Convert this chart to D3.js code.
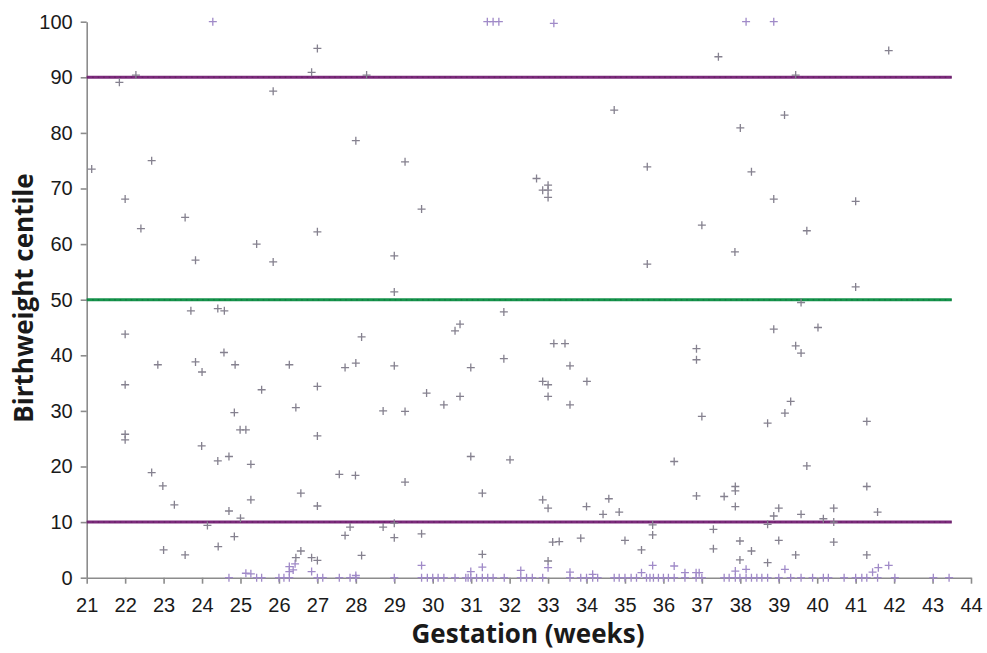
<!DOCTYPE html>
<html lang="en">
<head>
<meta charset="UTF-8">
<title>Birthweight centile by gestation</title>
<script src="https://d3js.org/d3.v7.min.js"></script>
<style>
	body { margin: 0; background: #fff; }
	svg { display: block; }
</style>
</head>
<body>
<div id="main"></div>
<script>
	// gestation (weeks) for each baby
	var gestation = [
		24.28, 27.0, 26.85, 22.28, 21.85, 25.85, 28.28, 28.0, 21.13, 22.69, 22.0,
		31.42, 31.57, 31.72, 33.15, 34.72, 29.28, 35.58, 32.70, 33.0, 32.86, 33.0, 33.0, 29.71,
		38.15, 38.87, 37.43, 41.86, 39.44, 39.15, 38.0, 38.29, 38.87, 41.0,
		22.41, 23.56, 23.83, 25.42, 25.85, 27.0, 23.71, 24.41, 24.58, 22.0, 28.15, 24.57, 22.85,
		23.83, 24.0, 24.86, 26.27, 27.72, 28.0, 22.0, 25.55, 27.0,
		29.0, 29.0, 35.58, 31.85, 30.71, 30.58, 33.15, 33.44, 31.85, 29.0, 30.99, 33.57, 32.86,
		33.0, 34.01, 29.84, 30.71, 33.0,
		37.0, 39.73, 37.86, 41.0, 39.58, 38.87, 40.02, 36.86, 36.86, 39.44, 39.58,
		24.84, 26.44, 22.0, 22.0, 24.99, 25.14, 27.0, 23.99, 22.69, 22.98, 23.28, 24.41, 24.70,
		25.27, 25.27, 24.70, 25.0, 24.14, 24.84, 24.42, 23.0, 23.56, 26.57, 27.0, 27.57, 27.99,
		27.72, 27.85, 28.15,
		25.14, 25.27, 24.70, 25.42, 25.55, 26.0, 26.13, 26.27, 26.27, 26.27, 26.37, 26.42, 26.44,
		26.57, 26.85, 27.0, 26.85, 27.0, 27.14, 27.57, 27.85, 28.0, 28.0,
		28.71, 29.28, 30.29, 33.57, 29.28, 30.99, 32.01, 31.29, 32.86, 33.0, 34.0, 34.43, 34.58,
		34.85, 28.71, 29.0, 29.0, 29.71, 33.12, 33.29, 33.85, 35.0, 35.43, 35.72, 35.72, 35.72,
		31.29, 31.29, 29.71, 33.0, 33.0, 30.99, 32.29, 33.57, 34.16, 35.43,
		29.0, 29.71, 29.86, 30.0, 30.14, 30.29, 30.58, 30.86, 30.92, 30.99, 31.14, 31.29, 31.43,
		31.57, 31.86, 32.29, 32.44, 32.59, 32.86, 33.57, 33.85, 34.0, 34.16, 34.29, 34.72, 34.85,
		35.0, 35.16, 35.30, 35.56, 35.65, 35.74, 35.87, 36.0, 36.13,
		39.31, 39.16, 38.71, 37.0, 41.29, 36.28, 39.73, 36.86, 37.58, 37.87, 37.87, 37.87, 41.29,
		39.0, 38.87, 39.58, 40.43, 41.57, 38.71, 40.16, 40.43, 37.30, 37.30, 37.99, 39.0, 40.43,
		38.29, 39.44, 41.29, 37.99, 38.71, 36.28, 41.86, 41.59, 38.15, 39.16, 37.87, 41.44, 36.56,
		36.85, 36.93,
		36.28, 36.56, 36.85, 37.0, 37.58, 37.71, 37.87, 37.99, 38.15, 38.29, 38.43, 38.56, 38.71,
		39.0, 39.31, 39.58, 39.88, 40.16, 40.29, 40.70, 41.0, 41.16, 41.29, 41.57, 42.02, 43.02, 43.43
	];

	// birthweight centile for each baby (same order)
	var centile = [
		100, 95.2, 90.9, 90.4, 89.1, 87.5, 90.4, 78.6, 73.5, 75.0, 68.1,
		100, 100, 100, 99.7, 84.1, 74.8, 73.9, 71.8, 70.6, 69.7, 69.7, 68.4, 66.3,
		100, 100, 93.7, 94.8, 90.4, 83.2, 80.9, 73.0, 68.1, 67.7,
		62.8, 64.8, 57.1, 60.0, 56.8, 62.2, 48.0, 48.4, 48.0, 43.8, 43.3, 40.5, 38.3,
		38.8, 37.0, 38.3, 38.3, 37.8, 38.6, 34.7, 33.8, 34.4,
		57.9, 51.4, 56.4, 47.8, 45.6, 44.4, 42.1, 42.1, 39.4, 38.1, 37.8, 38.1, 35.3,
		34.7, 35.3, 33.2, 32.6, 32.6,
		63.4, 62.4, 58.6, 52.3, 49.5, 44.7, 45.0, 41.2, 39.2, 41.7, 40.4,
		29.7, 30.6, 25.8, 24.8, 26.6, 26.6, 25.5, 23.7, 18.9, 16.5, 13.1, 21.0, 21.8,
		20.4, 14.0, 12.0, 10.7, 9.4, 7.4, 5.6, 5.0, 4.1, 15.2, 12.9, 18.6, 18.4,
		7.6, 9.1, 4.0,
		0.8, 0.7, 0, 0, 0, 0, 0, 0, 1.1, 2.0, 1.4, 2.5, 3.6,
		4.8, 3.6, 3.1, 1.1, 0, 0, 0, 0, 0, 0.4,
		30.0, 29.9, 31.1, 31.1, 17.2, 21.8, 21.2, 15.2, 14.0, 12.5, 12.8, 11.4, 14.2,
		11.8, 9.1, 9.8, 7.2, 7.9, 6.4, 6.5, 7.1, 6.7, 5.0, 9.5, 7.7, 2.2,
		4.2, 1.9, 2.2, 3.0, 1.8, 1.1, 1.3, 1.0, 0.6, 0.9,
		0, 0, 0, 0, 0, 0, 0, 0, 0, 0, 0, 0, 0,
		0, 0, 0, 0, 0, 0, 0, 0, 0, 0, 0, 0, 0,
		0, 0, 0, 0, 0, 0, 0, 0, 0,
		31.7, 29.6, 27.8, 29.0, 28.1, 20.9, 20.1, 14.7, 14.6, 16.4, 15.6, 12.8, 16.4,
		12.5, 11.1, 11.4, 12.5, 11.8, 9.6, 10.6, 10.0, 8.7, 5.2, 6.6, 6.7, 6.4,
		4.8, 4.1, 4.1, 3.2, 2.7, 2.1, 2.2, 1.8, 1.5, 1.5, 1.2, 1.0, 0.9,
		0.9, 0.9,
		0, 0, 0, 0, 0, 0, 0, 0, 0, 0, 0, 0, 0,
		0, 0, 0, 0, 0, 0, 0, 0, 0, 0, 0, 0, 0, 0
	];

	// reference centile lines
	var refCentiles = [90, 50, 10];
	var refColors = ["#7b2a7b", "#15934b", "#7b2a7b"];
	var refSpan = [21, 43.5];

	var xTicks = d3.range(21, 45);
	var yTicks = d3.range(0, 101, 10);

	var width = 987, height = 653;
	var margin = {left: 86.7, right: 16, top: 21.7, bottom: 75.3};

	var svg = d3.select("#main")
		.append("svg")
		.attr("width", width)
		.attr("height", height);

	var x = d3.scaleLinear().domain([21, 44]).range([margin.left, width - margin.right]);
	var y = d3.scaleLinear().domain([0, 100]).range([height - margin.bottom, margin.top]);

	//axes
	var xAxis = svg.append("g")
		.attr("transform", "translate(0," + y(0) + ")")
		.call(d3.axisBottom(x).tickValues(xTicks).tickFormat(d3.format("d")).tickSize(6).tickSizeOuter(0).tickPadding(14));

	var yAxis = svg.append("g")
		.attr("transform", "translate(" + x(21) + ",0)")
		.call(d3.axisLeft(y).tickValues(yTicks).tickSize(6).tickSizeOuter(0).tickPadding(8));

	svg.selectAll(".domain, .tick line")
		.attr("stroke", "#8c8c8c")
		.attr("stroke-width", 1.6);
	svg.selectAll(".tick text")
		.attr("fill", "#1a1a1a")
		.style("font-family", "'Liberation Sans', Arial, sans-serif")
		.style("font-size", "20px");

	//reference lines
	refCentiles.forEach(function(c, i){
		svg.append("line")
			.attr("x1", x(refSpan[0]))
			.attr("x2", x(refSpan[1]))
			.attr("y1", y(c))
			.attr("y2", y(c))
			.attr("stroke", refColors[i])
			.attr("stroke-width", 3);
		svg.append("line")
			.attr("x1", x(refSpan[0]))
			.attr("x2", x(refSpan[1]))
			.attr("y1", y(c))
			.attr("y2", y(c))
			.attr("stroke", d3.color(refColors[i]).darker(1))
			.attr("stroke-width", 1.5)
			.attr("stroke-dasharray", "1.5,4")
			.attr("opacity", 0.5);
	});

	//points
	var points = gestation.map(function(g, i){ return {g: g, c: centile[i]}; });

	svg.append("g")
		.selectAll("path")
		.data(points)
		.enter()
		.append("path")
		.attr("transform", function(d){ return "translate(" + x(d.g) + "," + y(d.c) + ")"; })
		.attr("d", "M-4,0H4M0,-4V4")
		.attr("fill", "none")
		.attr("stroke-width", 1.3)
		.attr("stroke", function(d){
			return (d.c <= 2.5 || d.c >= 99) ? "#a08ac8" : "#85818f";
		});

	//axis titles
	svg.append("text")
		.attr("x", 528)
		.attr("y", 643)
		.attr("text-anchor", "middle")
		.style("font-family", "'Open Sans', sans-serif")
		.style("font-weight", "bold")
		.style("font-size", "26px")
		.attr("fill", "#1a1a1a")
		.text("Gestation (weeks)");

	svg.append("text")
		.attr("transform", "translate(33," + 298 + ") rotate(-90)")
		.attr("text-anchor", "middle")
		.style("font-family", "'Open Sans', sans-serif")
		.style("font-weight", "bold")
		.style("font-size", "26px")
		.attr("fill", "#1a1a1a")
		.text("Birthweight centile");
</script>
</body>
</html>
